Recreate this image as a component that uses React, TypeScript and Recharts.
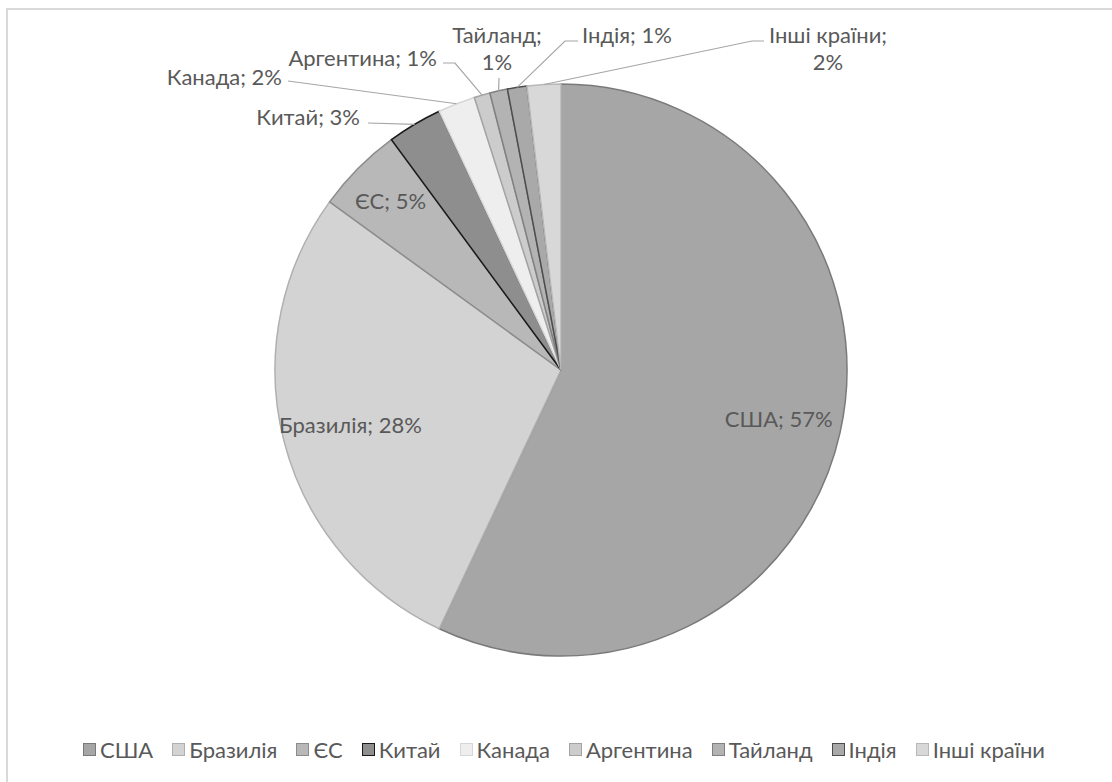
import React from 'react';
import { PieChart, Pie, Cell, Legend } from 'recharts';

const countries = ['США', 'Бразилія', 'ЄС', 'Китай', 'Канада', 'Аргентина', 'Тайланд', 'Індія', 'Інші країни'];
const shares = [57.0, 28.0, 4.9, 3.1, 2.1, 0.9, 1.0, 1.1, 1.9];

const fills = ['#a6a6a6', '#d3d3d3', '#b8b8b8', '#8e8e8e', '#eeeeee', '#cccccc', '#b3b3b3', '#a9a9a9', '#d8d8d8'];
const strokes = ['#7a7a7a', '#b0b0b0', '#8c8c8c', '#1a1a1a', '#d6d6d6', '#a3a3a3', '#808080', '#4d4d4d', '#b8b8b8'];

const data = countries.map((name, i) => ({ name, value: shares[i] }));

const FONT = 'Lato, "Open Sans", sans-serif';
const FS = 22;
const TXT = '#595959';

type Lay =
  | { kind: 'in'; r: number }
  | { kind: 'out'; lines: number; tx: number; ty: number; anchor: 'start' | 'end' | 'middle'; pts: [number, number][] };

const layout: Lay[] = [
  { kind: 'in', r: 0.78 },
  { kind: 'in', r: 0.76 },
  { kind: 'in', r: 0.84 },
  { kind: 'out', lines: 1, tx: -201, ty: -254, anchor: 'end', pts: [[-193, -247]] },
  { kind: 'out', lines: 1, tx: -279, ty: -294, anchor: 'end', pts: [[-273, -289]] },
  { kind: 'out', lines: 1, tx: -124, ty: -313, anchor: 'end', pts: [[-106, -307], [-118, -307]] },
  { kind: 'out', lines: 2, tx: -64, ty: -336, anchor: 'middle', pts: [[-62, -292]] },
  { kind: 'out', lines: 1, tx: 21, ty: -336, anchor: 'start', pts: [[4, -329], [17, -329]] },
  { kind: 'out', lines: 2, tx: 267, ty: -336, anchor: 'middle', pts: [[191, -329], [203, -329]] },
];

const RAD = Math.PI / 180;

const renderLabel = (props: any) => {
  const { cx, cy, midAngle, outerRadius, index, name, percent } = props;
  const pct = `${Math.round(percent * 100)}%`;
  const lay = layout[index];
  if (lay.kind === 'in') {
    const r = outerRadius * lay.r;
    const x = cx + r * Math.cos(-midAngle * RAD);
    const y = cy + r * Math.sin(-midAngle * RAD);
    return (
      <text key={`l${index}`} x={x} y={y} fill={TXT} fontSize={FS} fontFamily={FONT} textAnchor="middle" dominantBaseline="central">
        {`${name}; ${pct}`}
      </text>
    );
  }
  const ex = cx + outerRadius * Math.cos(-midAngle * RAD);
  const ey = cy + outerRadius * Math.sin(-midAngle * RAD);
  const pts = [[ex, ey], ...lay.pts.map(([dx, dy]) => [cx + dx, cy + dy])];
  const tx = cx + lay.tx;
  const ty = cy + lay.ty;
  return (
    <g key={`l${index}`}>
      <polyline points={pts.map((p) => p.join(',')).join(' ')} fill="none" stroke="#a6a6a6" strokeWidth={1.2} />
      {lay.lines === 1 ? (
        <text x={tx} y={ty} fill={TXT} fontSize={FS} fontFamily={FONT} textAnchor={lay.anchor} dominantBaseline="central">
          {`${name}; ${pct}`}
        </text>
      ) : (
        <text x={tx} y={ty} fill={TXT} fontSize={FS} fontFamily={FONT} textAnchor={lay.anchor} dominantBaseline="central">
          <tspan x={tx} y={ty}>{`${name};`}</tspan>
          <tspan x={tx} y={ty + 27}>{pct}</tspan>
        </text>
      )}
    </g>
  );
};

const renderLegend = () => (
  <div
    style={{
      display: 'flex',
      justifyContent: 'center',
      alignItems: 'center',
      fontFamily: FONT,
      fontSize: FS,
      color: TXT,
      whiteSpace: 'nowrap',
    }}
  >
    {countries.map((c, i) => (
      <span key={c} style={{ display: 'inline-flex', alignItems: 'center', marginRight: i < countries.length - 1 ? 19 : 0 }}>
        <span
          style={{
            display: 'inline-block',
            width: 13,
            height: 13,
            boxSizing: 'border-box',
            background: fills[i],
            border: `1px solid ${strokes[i]}`,
            marginRight: 4,
          }}
        />
        <span>{c}</span>
      </span>
    ))}
  </div>
);

export default function App() {
  return (
    <div style={{ position: 'absolute', left: 0, top: 0, width: 1112, height: 782, overflow: 'hidden', background: '#fff' }}>
      <div
        style={{
          position: 'absolute',
          left: 6,
          top: 8,
          width: 1120,
          height: 800,
          border: '2px solid #d9d9d9',
        }}
      />
      <div style={{ position: 'absolute', left: 0, top: 0 }}>
        <PieChart width={1112} height={782} margin={{ top: 0, right: 0, bottom: 0, left: 0 }}>
          <Pie
            data={data}
            dataKey="value"
            nameKey="name"
            cx={561}
            cy={370}
            outerRadius={286}
            startAngle={90}
            endAngle={-270}
            isAnimationActive={false}
            label={renderLabel}
            labelLine={false}
          >
            {data.map((d, i) => (
              <Cell key={d.name} fill={fills[i]} stroke={strokes[i]} strokeWidth={1.5} />
            ))}
          </Pie>
          <Legend content={renderLegend} wrapperStyle={{ position: 'absolute', left: 0, width: 1128, top: 736 }} />
        </PieChart>
      </div>
    </div>
  );
}
